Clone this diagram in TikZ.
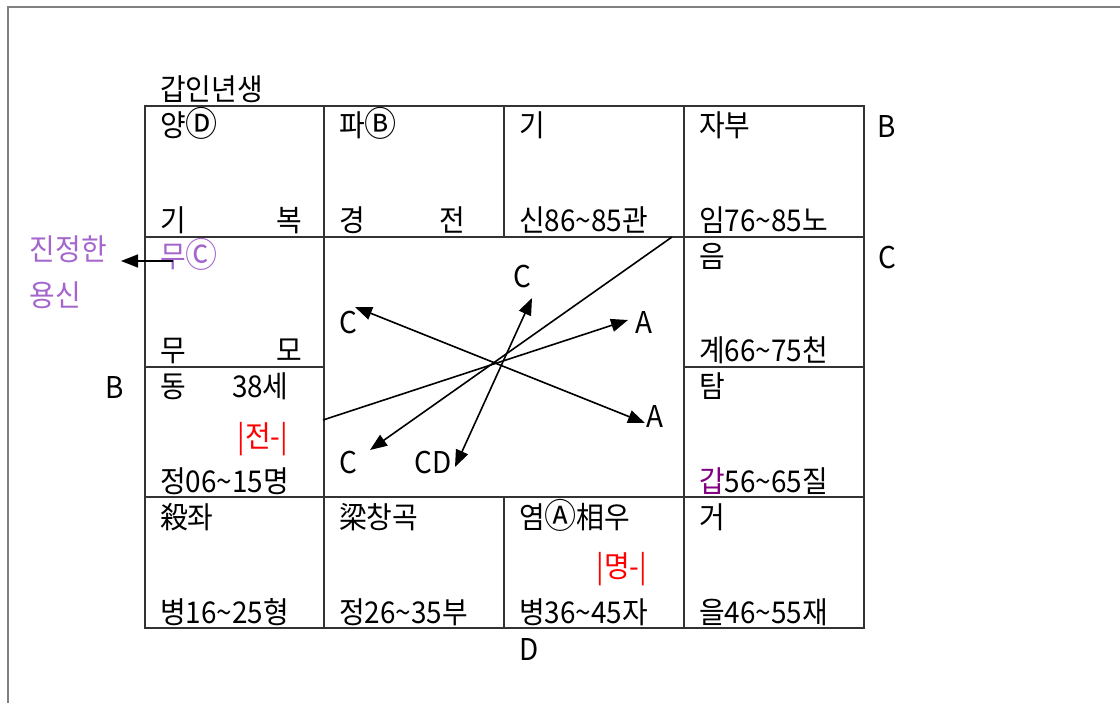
\documentclass[tikz,border=0pt]{standalone}
\usepackage{fontspec}
\setmainfont{Noto Sans CJK KR}[FakeStretch=0.93]
\usetikzlibrary{arrows.meta}
\definecolor{lpurple}{HTML}{A466CC}
\definecolor{dpurple}{HTML}{800080}
\definecolor{txtred}{HTML}{FF0000}
\newcommand{\fsz}{\fontsize{30}{34}\selectfont}
\newcommand{\cltr}[1]{\scalebox{1.15}{#1}}
\begin{document}
\begin{tikzpicture}[x=1pt,y=-1pt,
  every node/.style={inner sep=0pt,outer sep=0pt,font=\fsz},
  celltxt/.style={anchor=base west},
  celltxtr/.style={anchor=base east},
  grid/.style={line width=1.2pt,draw=black!80},
  frame/.style={line width=1.2pt,draw=black!50},
  conn/.style={line width=1.6pt,draw=black,-{Triangle[length=17pt,width=13pt]}},
  conn2/.style={line width=1.6pt,draw=black,{Triangle[length=17pt,width=13pt]}-{Triangle[length=17pt,width=13pt]}},
  plain/.style={line width=1.6pt,draw=black}]
\useasboundingbox (0,0) rectangle (1120,703);
% outer frame (clipped)
\draw[frame] (8,703) -- (8,7) -- (1120,7);
% grid
\draw[grid] (145,106) rectangle (864,628);
\draw[grid] (324,106) -- (324,628);
\draw[grid] (684,106) -- (684,628);
\draw[grid] (504,106) -- (504,237);
\draw[grid] (504,497) -- (504,628);
\draw[grid] (145,237) -- (864,237);
\draw[grid] (145,497) -- (864,497);
\draw[grid] (145,367) -- (324,367);
\draw[grid] (684,367) -- (864,367);

% title
\node[celltxt] (title) at (160,101) {갑인년생};
% outside labels
\node (lbB1) at (887,127) {B};
\node (lbC1) at (887,258) {C};
\node (lbB2) at (115,388) {B};
\node (lbD) at (529,650) {D};
\node[celltxt,text=lpurple] (jin) at (30,261) {진정한};
\node[celltxt,text=lpurple] (yong) at (30,307) {용신};

% row 1
\node[celltxt] (c11t) at (160,137) {양\cltr{Ⓓ}};
\node[celltxt] (c11a) at (160,232) {기};
\node[celltxtr] (c11b) at (302,232) {복};
\node[celltxt] (c12t) at (339,137) {파\cltr{Ⓑ}};
\node[celltxt] (c12a) at (339,232) {경};
\node[celltxtr] (c12b) at (465,232) {전};
\node[celltxt] (c13t) at (519,137) {기};
\node[celltxt] (c13b) at (519,232) {신86\char`\~85관};
\node[celltxt] (c14t) at (699,137) {자부};
\node[celltxt] (c14b) at (699,232) {임76\char`\~85노};
% row 2
\node[celltxt,text=lpurple] (c21t) at (160,268) {무\cltr{Ⓒ}};
\node[celltxt] (c21a) at (160,362) {무};
\node[celltxtr] (c21b) at (302,362) {모};
\node[celltxt] (c24t) at (699,268) {음};
\node[celltxt] (c24b) at (699,362) {계66\char`\~75천};
% row 3
\node[celltxt] (c31t) at (160,398) {동};
\node[celltxt] (c31age) at (232,398) {38세};
\node[anchor=base,text=txtred] (c31red) at (263,447) {|전-|};
\node[celltxt] (c31b) at (160,492) {정06\char`\~15명};
\node[celltxt] (c34t) at (699,398) {탐};
\node[celltxt] (c34b) at (699,492) {\textcolor{dpurple}{갑}56\char`\~65질};
% row 4
\node[celltxt] (c41t) at (160,528) {殺좌};
\node[celltxt] (c41b) at (160,623) {병16\char`\~25형};
\node[celltxt] (c42t) at (339,528) {梁창곡};
\node[celltxt] (c42b) at (339,623) {정26\char`\~35부};
\node[celltxt] (c43t) at (519,528) {염\cltr{Ⓐ}相우};
\node[anchor=base,text=txtred] (c43red) at (622,577) {|명-|};
\node[celltxt] (c43b) at (519,623) {병36\char`\~45자};
\node[celltxt] (c44t) at (699,528) {거};
\node[celltxt] (c44b) at (699,623) {을46\char`\~55재};

% centre labels
\node (lC1) at (348,323) {C};
\node (lC2) at (522,277) {C};
\node (lA1) at (644,323) {A};
\node (lA2) at (655,417) {A};
\node (lC3) at (348,463) {C};
\node (lCD) at (433,463) {CD};

% arrow end points
\coordinate (p1s) at (323,420);
\coordinate (p1e) at (628,320);
\coordinate (p2s) at (672,237);
\coordinate (p2e) at (370,450);
\coordinate (p3s) at (355,307);
\coordinate (p3e) at (645,423);
\coordinate (p4s) at (532,298);
\coordinate (p4e) at (455,467);
\coordinate (q1s) at (173,261);
\coordinate (q1e) at (121,261);

\draw[conn] (p1s) -- (p1e);
\draw[conn] (p2s) -- (p2e);
\draw[conn2] (p3s) -- (p3e);
\draw[conn2] (p4s) -- (p4e);
\draw[conn] (q1s) -- (q1e);
\end{tikzpicture}
\end{document}
